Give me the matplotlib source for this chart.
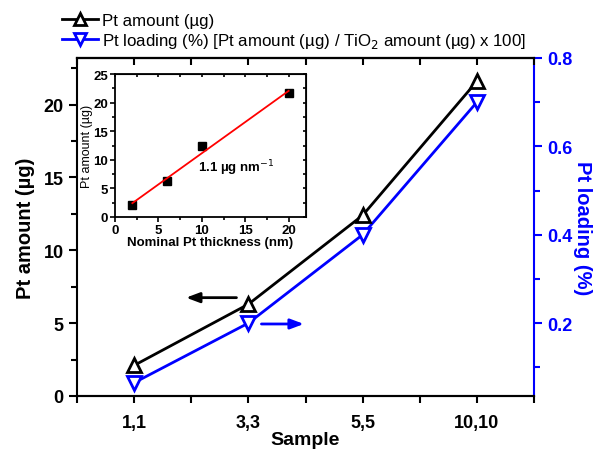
import numpy as np
import matplotlib
matplotlib.use("Agg")
import matplotlib.pyplot as plt
from matplotlib.ticker import MultipleLocator

plt.rcParams['font.family'] = ['Liberation Sans', 'DejaVu Sans']

samples = ["1,1", "3,3", "5,5", "10,10"]
pt_amount = [2.1, 6.3, 12.4, 21.6]
pt_loading = [0.065, 0.20, 0.40, 0.70]
thickness = [2, 6, 10, 20]
inset_amount = [2.1, 6.3, 12.4, 21.6]

fig = plt.figure(figsize=(6.07, 4.52), dpi=100)
ax = fig.add_axes([77/607, 1-397/452, (534-77)/607, (397-59)/452])
ax2 = ax.twinx()

x = np.arange(1, len(samples)+1)
l1, = ax.plot(x, pt_amount, color='black', lw=2, marker='^', ms=10,
              mfc='white', mec='black', mew=2)
l2, = ax2.plot(x, pt_loading, color='blue', lw=2, marker='v', ms=10,
               mfc='white', mec='blue', mew=2)

ax.set_xlim(0.5, 4.5)
ax.set_ylim(0, 23.2)
ax2.set_ylim(0.035, 0.8)
ax.set_zorder(ax2.get_zorder()+1)
ax.patch.set_visible(False)

ax.set_xticks(x)
ax.set_xticklabels(samples)
ax.xaxis.set_minor_locator(MultipleLocator(0.5))
ax.yaxis.set_major_locator(MultipleLocator(5))
ax.yaxis.set_minor_locator(MultipleLocator(2.5))
ax2.yaxis.set_major_locator(MultipleLocator(0.2))
ax2.yaxis.set_minor_locator(MultipleLocator(0.1))

for a in (ax, ax2):
    for s in a.spines.values():
        s.set_linewidth(1.5)
ax2.spines['right'].set_color('blue')
ax.spines['right'].set_visible(False)
ax2.spines['left'].set_visible(False)

ax.tick_params(axis='x', which='both', direction='out', top=False, length=5, width=1.5,
               labelsize=13, pad=8)
ax.tick_params(axis='y', which='major', direction='out', length=6, width=1.5, labelsize=13)
ax.tick_params(axis='y', which='minor', direction='out', length=4, width=1.5)
ax2.tick_params(axis='y', which='major', direction='out', length=6, width=1.5,
                colors='blue', labelsize=13)
ax2.tick_params(axis='y', which='minor', direction='out', length=4, width=1.5, colors='blue')
for lab in ax.get_xticklabels() + ax.get_yticklabels() + ax2.get_yticklabels():
    lab.set_fontweight('bold')

# top ticks inward
sec = ax.secondary_xaxis('top')
sec.set_xticks(x)
sec.set_xticklabels([])
sec.xaxis.set_minor_locator(MultipleLocator(0.5))
sec.tick_params(which='both', direction='in', length=5, width=1.5)
sec.spines['top'].set_linewidth(1.5)

ax.set_xlabel('Sample', fontsize=14, fontweight='bold', labelpad=0)
ax.set_ylabel('Pt amount (µg)', fontsize=14.5, fontweight='bold', labelpad=6)
ax2.set_ylabel('Pt loading (%)', fontsize=14.5, fontweight='bold', color='blue',
               rotation=270, labelpad=14)

# arrows
ax.annotate('', xy=(1.43, 6.75), xytext=(1.92, 6.75),
            arrowprops=dict(arrowstyle='-|>,head_length=0.8,head_width=0.3',
                            color='black', lw=2))
ax2.annotate('', xy=(2.51, 0.198), xytext=(2.09, 0.198),
             arrowprops=dict(arrowstyle='-|>,head_length=0.8,head_width=0.3',
                             color='blue', lw=2))

fig.legend([l1, l2], ['Pt amount (µg)',
                      'Pt loading (%) [Pt amount (µg) / TiO$_2$ amount (µg) x 100]'],
           loc='upper left', bbox_to_anchor=(62/607, 1-14/452), frameon=False,
           fontsize=12.2, handlelength=2.1, handletextpad=0.25, labelspacing=0.2,
           borderpad=0, borderaxespad=0, markerscale=0.9)

# inset
ins = fig.add_axes([115/607, 1-218/452, (306-115)/607, (218-75)/452])
ins.set_zorder(ax.get_zorder()+1)
ins.plot(thickness, inset_amount, 's', color='black', ms=6)
coef = np.polyfit(thickness, inset_amount, 1)
xf = np.array([min(thickness), max(thickness)])
ins.plot(xf, np.polyval(coef, xf), color='red', lw=1.3)
ins.set_xlim(0, 22)
ins.set_ylim(0, 25)
ins.xaxis.set_major_locator(MultipleLocator(5))
ins.xaxis.set_minor_locator(MultipleLocator(2.5))
ins.yaxis.set_major_locator(MultipleLocator(5))
ins.yaxis.set_minor_locator(MultipleLocator(2.5))
for s in ins.spines.values():
    s.set_linewidth(1.3)
ins.tick_params(which='major', direction='out', length=3.5, width=1.2, labelsize=9.5, pad=1.5)
ins.tick_params(which='minor', direction='out', length=2, width=1.2)
for lab in ins.get_xticklabels() + ins.get_yticklabels():
    lab.set_fontweight('bold')
sx = ins.secondary_xaxis('top')
sx.xaxis.set_major_locator(MultipleLocator(5))
sx.xaxis.set_minor_locator(MultipleLocator(2.5))
sx.set_xticklabels([])
sx.tick_params(which='both', direction='in', length=2.5, width=1.2)
sy = ins.secondary_yaxis('right')
sy.yaxis.set_major_locator(MultipleLocator(5))
sy.yaxis.set_minor_locator(MultipleLocator(2.5))
sy.set_yticklabels([])
sy.tick_params(which='both', direction='in', length=2.5, width=1.2)
ins.set_xlabel('Nominal Pt thickness (nm)', fontsize=9.5, fontweight='bold', labelpad=0)
ins.set_ylabel('Pt amount (µg)', fontsize=9, labelpad=0)
ins.text(9.6, 8.0, '1.1 µg nm$^{-1}$', fontsize=9.5, fontweight='bold')

fig.savefig('out.png', dpi=100)
